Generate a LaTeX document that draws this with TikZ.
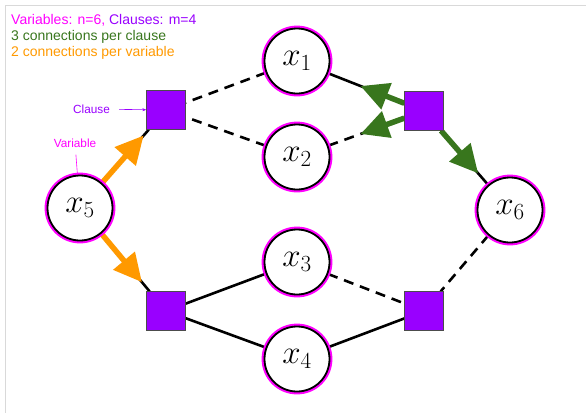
\RequirePackage{fix-cm}
\documentclass[tikz,border=0pt]{standalone}
\usepackage{fontspec}
\setsansfont{Liberation Sans}
\usetikzlibrary{arrows.meta,calc,backgrounds}
\definecolor{mag}{HTML}{FF00FF}
\definecolor{purp}{HTML}{9900FF}
\definecolor{grn}{HTML}{38761D}
\definecolor{org}{HTML}{FF9900}
\definecolor{framegray}{HTML}{D9D9D9}
\begin{document}
\begin{tikzpicture}[x=1pt,y=-1pt,
 var/.style={circle, draw=black, line width=1.8pt, fill=white, minimum size=65pt, inner sep=0pt,
   preaction={draw=mag, line width=5.8pt}, font=\fontsize{33}{33}\selectfont},
 clause/.style={rectangle, draw=black!70, line width=0.8pt, fill=purp, minimum size=38.5pt, inner sep=0pt},
 edge/.style={line width=2.6pt, black},
 dedge/.style={edge, dash pattern=on 10pt off 7pt},
 garrow/.style={draw=grn, line width=5.5pt, -{Triangle[length=28pt,width=27pt]}},
 oarrow/.style={draw=org, line width=5.5pt, -{Triangle[length=28pt,width=27pt]}},
 lab/.style={font=\sffamily\fontsize{14}{16}\selectfont, anchor=base west, inner sep=0pt},
 small/.style={font=\sffamily\fontsize{11.8}{13}\selectfont, inner sep=0pt},
]
\useasboundingbox (0,0) rectangle (586,413);
\draw[framegray, line width=1pt] (586,5) -- (5,5) -- (5,413);

% variables
\node[var] (x1) at (297,61) {$x_1$};
\node[var] (x2) at (297,157) {$x_2$};
\node[var] (x3) at (297,262) {$x_3$};
\node[var] (x4) at (297,359) {$x_4$};
\node[var] (x5) at (80,208) {$x_5$};
\node[var] (x6) at (510,210) {$x_6$};

% clauses
\node[clause] (TL) at (166,110) {};
\node[clause] (TR) at (424,111) {};
\node[clause] (BL) at (166,311) {};
\node[clause] (BR) at (424,311) {};

\coordinate (g1) at ($(TR)!0.5!(x1)$);
\coordinate (g2) at ($(TR)!0.5!(x2)$);
\coordinate (g3) at ($(TR)!0.63!(x6)$);
\coordinate (o1) at ($(x5)!0.74!(TL)$);
\coordinate (o2) at ($(x5)!0.72!(BL)$);

\begin{scope}[on background layer]
\draw[dedge] (x1) -- (TL);
\draw[dedge] (x2) -- (TL);
\draw[edge] (x1) -- (TR);
\draw[dedge] (x2) -- (TR);
\draw[edge] (TR) -- (x6);
\draw[edge] (x5) -- (TL);
\draw[edge] (x5) -- (BL);
\draw[edge] (x3) -- (BL);
\draw[edge] (x4) -- (BL);
\draw[dedge] (x3) -- (BR);
\draw[edge] (x4) -- (BR);
\draw[dedge] (x6) -- (BR);
\draw[garrow] (TR) -- (g1);
\draw[garrow] (TR) -- (g2);
\draw[garrow] (TR) -- (g3);
\draw[oarrow] (x5) -- (o1);
\draw[oarrow] (x5) -- (o2);
\end{scope}

% legend
\node[lab, text=mag] (t1) at (11,24) {Variables: n=6, \textcolor{purp}{Clauses: m=4}};
\node[lab, text=grn] (t2) at (11,40) {3 connections per clause};
\node[lab, text=org] (t3) at (11,56) {2 connections per variable};

% annotations
\node[small, text=purp, anchor=west] (cl) at (73,109) {Clause};
\draw[purp, line width=0.6pt, -{Stealth[length=4pt,width=3pt]}, shorten <=9pt] (cl) -- (TL);
\node[small, text=mag] (vl) at (75,143) {Variable};
\draw[mag, line width=0.6pt, shorten <=7pt] (vl) -- (x5);
\end{tikzpicture}
\end{document}
